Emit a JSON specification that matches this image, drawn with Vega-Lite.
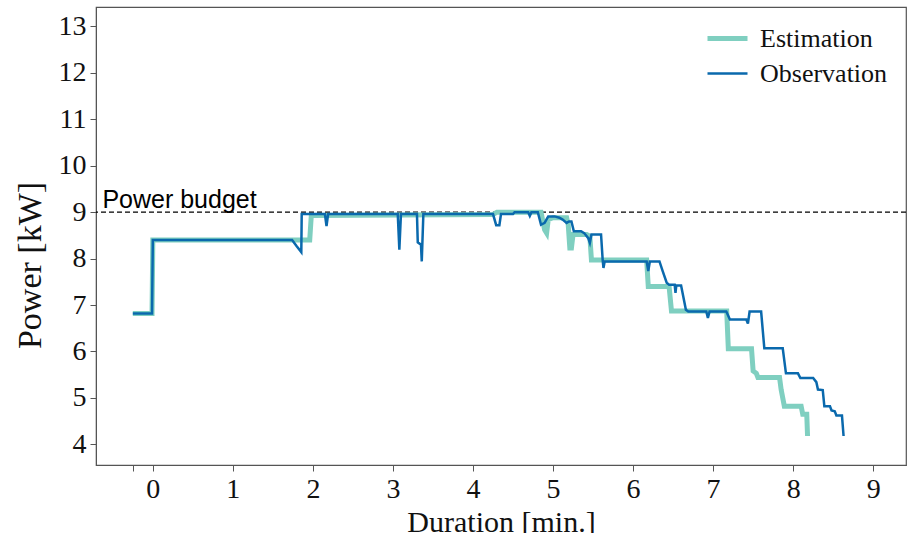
{
  "$schema": "https://vega.github.io/schema/vega-lite/v6.json",
  "autosize": "none",
  "width": 810,
  "height": 458,
  "padding": {"left": 96, "top": 7, "right": 6, "bottom": 68},
  "background": "white",
  "config": {
    "font": "Liberation Serif",
    "view": {"stroke": "#555555", "strokeWidth": 1.2},
    "axis": {
      "grid": false,
      "domainColor": "#555555",
      "tickColor": "#555555",
      "tickSize": 6,
      "labelColor": "#111111",
      "titleColor": "#111111",
      "labelFont": "Liberation Serif",
      "titleFont": "Liberation Serif",
      "titleFontWeight": "normal"
    }
  },
  "datasets": {
    "power": [
      {"series": "Estimation", "t": -0.25, "p": 6.82},
      {"series": "Estimation", "t": -0.01, "p": 6.82},
      {"series": "Estimation", "t": 0.0, "p": 8.4},
      {"series": "Estimation", "t": 1.96, "p": 8.4},
      {"series": "Estimation", "t": 1.98, "p": 8.93},
      {"series": "Estimation", "t": 4.25, "p": 8.95},
      {"series": "Estimation", "t": 4.3, "p": 9.0},
      {"series": "Estimation", "t": 4.85, "p": 9.0},
      {"series": "Estimation", "t": 4.895, "p": 8.62},
      {"series": "Estimation", "t": 4.92, "p": 8.55},
      {"series": "Estimation", "t": 4.94, "p": 8.84},
      {"series": "Estimation", "t": 5.0, "p": 8.88},
      {"series": "Estimation", "t": 5.17, "p": 8.88},
      {"series": "Estimation", "t": 5.19, "p": 8.73},
      {"series": "Estimation", "t": 5.21, "p": 8.23},
      {"series": "Estimation", "t": 5.23, "p": 8.23},
      {"series": "Estimation", "t": 5.25, "p": 8.52},
      {"series": "Estimation", "t": 5.42, "p": 8.52},
      {"series": "Estimation", "t": 5.46, "p": 8.48},
      {"series": "Estimation", "t": 5.48, "p": 7.97},
      {"series": "Estimation", "t": 6.17, "p": 7.97},
      {"series": "Estimation", "t": 6.19, "p": 7.4},
      {"series": "Estimation", "t": 6.45, "p": 7.4},
      {"series": "Estimation", "t": 6.48, "p": 6.87},
      {"series": "Estimation", "t": 7.17, "p": 6.87},
      {"series": "Estimation", "t": 7.19, "p": 6.06},
      {"series": "Estimation", "t": 7.48, "p": 6.06},
      {"series": "Estimation", "t": 7.5, "p": 5.58},
      {"series": "Estimation", "t": 7.54, "p": 5.53},
      {"series": "Estimation", "t": 7.56, "p": 5.44},
      {"series": "Estimation", "t": 7.83, "p": 5.44},
      {"series": "Estimation", "t": 7.85, "p": 5.18},
      {"series": "Estimation", "t": 7.89, "p": 4.82},
      {"series": "Estimation", "t": 8.1, "p": 4.82},
      {"series": "Estimation", "t": 8.12, "p": 4.65},
      {"series": "Estimation", "t": 8.17, "p": 4.65},
      {"series": "Estimation", "t": 8.18, "p": 4.18},
      {"series": "Observation", "t": -0.25, "p": 6.82},
      {"series": "Observation", "t": -0.01, "p": 6.82},
      {"series": "Observation", "t": 0.0, "p": 8.4},
      {"series": "Observation", "t": 1.74, "p": 8.4},
      {"series": "Observation", "t": 1.8, "p": 8.26},
      {"series": "Observation", "t": 1.855, "p": 8.14},
      {"series": "Observation", "t": 1.86, "p": 8.96},
      {"series": "Observation", "t": 2.15, "p": 8.96},
      {"series": "Observation", "t": 2.17, "p": 8.7},
      {"series": "Observation", "t": 2.19, "p": 8.96},
      {"series": "Observation", "t": 3.06, "p": 8.96},
      {"series": "Observation", "t": 3.08, "p": 8.19},
      {"series": "Observation", "t": 3.1, "p": 8.96},
      {"series": "Observation", "t": 3.3, "p": 8.96},
      {"series": "Observation", "t": 3.31, "p": 8.35},
      {"series": "Observation", "t": 3.35, "p": 8.3},
      {"series": "Observation", "t": 3.36, "p": 7.94},
      {"series": "Observation", "t": 3.38, "p": 8.96},
      {"series": "Observation", "t": 4.25, "p": 8.96},
      {"series": "Observation", "t": 4.29, "p": 8.72},
      {"series": "Observation", "t": 4.33, "p": 8.72},
      {"series": "Observation", "t": 4.35, "p": 8.96},
      {"series": "Observation", "t": 4.5, "p": 8.96},
      {"series": "Observation", "t": 4.52, "p": 9.0},
      {"series": "Observation", "t": 4.69, "p": 9.0},
      {"series": "Observation", "t": 4.71, "p": 8.92},
      {"series": "Observation", "t": 4.73, "p": 9.0},
      {"series": "Observation", "t": 4.81, "p": 9.0},
      {"series": "Observation", "t": 4.85, "p": 8.73},
      {"series": "Observation", "t": 4.895, "p": 8.77},
      {"series": "Observation", "t": 4.94, "p": 8.91},
      {"series": "Observation", "t": 5.02, "p": 8.91},
      {"series": "Observation", "t": 5.08, "p": 8.88},
      {"series": "Observation", "t": 5.12, "p": 8.84},
      {"series": "Observation", "t": 5.17, "p": 8.77},
      {"series": "Observation", "t": 5.2, "p": 8.8},
      {"series": "Observation", "t": 5.23, "p": 8.8},
      {"series": "Observation", "t": 5.26, "p": 8.59},
      {"series": "Observation", "t": 5.35, "p": 8.59},
      {"series": "Observation", "t": 5.39, "p": 8.55},
      {"series": "Observation", "t": 5.44, "p": 8.44},
      {"series": "Observation", "t": 5.46, "p": 8.34},
      {"series": "Observation", "t": 5.48, "p": 8.52},
      {"series": "Observation", "t": 5.6, "p": 8.52},
      {"series": "Observation", "t": 5.62, "p": 7.98},
      {"series": "Observation", "t": 5.63, "p": 7.8},
      {"series": "Observation", "t": 5.645, "p": 7.94},
      {"series": "Observation", "t": 6.17, "p": 7.94},
      {"series": "Observation", "t": 6.19, "p": 7.73},
      {"series": "Observation", "t": 6.21, "p": 7.94},
      {"series": "Observation", "t": 6.33, "p": 7.94},
      {"series": "Observation", "t": 6.37, "p": 7.73},
      {"series": "Observation", "t": 6.42, "p": 7.48},
      {"series": "Observation", "t": 6.45, "p": 7.44},
      {"series": "Observation", "t": 6.52, "p": 7.44},
      {"series": "Observation", "t": 6.53, "p": 7.26},
      {"series": "Observation", "t": 6.54, "p": 7.42},
      {"series": "Observation", "t": 6.6, "p": 7.42},
      {"series": "Observation", "t": 6.66, "p": 6.9},
      {"series": "Observation", "t": 6.69, "p": 6.86},
      {"series": "Observation", "t": 6.915, "p": 6.86},
      {"series": "Observation", "t": 6.935, "p": 6.72},
      {"series": "Observation", "t": 6.956, "p": 6.86},
      {"series": "Observation", "t": 7.165, "p": 6.86},
      {"series": "Observation", "t": 7.21, "p": 6.69},
      {"series": "Observation", "t": 7.415, "p": 6.69},
      {"series": "Observation", "t": 7.435, "p": 6.6},
      {"series": "Observation", "t": 7.456, "p": 6.86},
      {"series": "Observation", "t": 7.6, "p": 6.86},
      {"series": "Observation", "t": 7.64, "p": 6.07},
      {"series": "Observation", "t": 7.87, "p": 6.07},
      {"series": "Observation", "t": 7.91, "p": 5.53},
      {"series": "Observation", "t": 8.06, "p": 5.53},
      {"series": "Observation", "t": 8.09, "p": 5.43},
      {"series": "Observation", "t": 8.25, "p": 5.43},
      {"series": "Observation", "t": 8.29, "p": 5.34},
      {"series": "Observation", "t": 8.31, "p": 5.18},
      {"series": "Observation", "t": 8.37, "p": 5.17},
      {"series": "Observation", "t": 8.39, "p": 4.82},
      {"series": "Observation", "t": 8.46, "p": 4.82},
      {"series": "Observation", "t": 8.48, "p": 4.73},
      {"series": "Observation", "t": 8.52, "p": 4.71},
      {"series": "Observation", "t": 8.54, "p": 4.62},
      {"series": "Observation", "t": 8.61, "p": 4.62},
      {"series": "Observation", "t": 8.63, "p": 4.18}
    ],
    "budget": [
      {"p": 9.0, "t": -0.63, "label": "Power budget"}
    ]
  },
  "layer": [
    {
      "data": {"name": "budget"},
      "mark": {"type": "rule", "color": "#000000", "strokeWidth": 1.3, "strokeDash": [5, 3]},
      "encoding": {
        "y": {"field": "p", "type": "quantitative", "scale": {"domain": [3.555, 13.42], "nice": false, "zero": false}}
      }
    },
    {
      "data": {"name": "budget"},
      "mark": {"type": "text", "font": "Liberation Sans", "fontSize": 25, "align": "left", "baseline": "alphabetic", "dy": -4, "color": "#000000"},
      "encoding": {
        "x": {"field": "t", "type": "quantitative"},
        "y": {"field": "p", "type": "quantitative"},
        "text": {"field": "label"}
      }
    },
    {
      "data": {"name": "power"},
      "mark": {"type": "line", "strokeJoin": "miter", "strokeCap": "butt"},
      "encoding": {
        "x": {
          "field": "t",
          "type": "quantitative",
          "scale": {"domain": [-0.71, 9.41], "nice": false, "zero": false},
          "axis": {
            "title": "Duration [min.]",
            "values": [-0.25, 0, 1, 2, 3, 4, 5, 6, 7, 8, 9],
            "labelExpr": "datum.value == -0.25 ? '' : format(datum.value, 'd')",
            "labelFontSize": 28,
            "labelPadding": 4,
            "titleFontSize": 30,
            "titlePadding": 4
          }
        },
        "y": {
          "field": "p",
          "type": "quantitative",
          "scale": {"domain": [3.555, 13.42], "nice": false, "zero": false},
          "axis": {
            "title": "Power [kW]",
            "values": [4, 5, 6, 7, 8, 9, 10, 11, 12, 13],
            "labelFontSize": 28,
            "labelPadding": 4,
            "titleFontSize": 34,
            "titleY": 258,
            "titlePadding": 11
          }
        },
        "color": {
          "field": "series",
          "type": "nominal",
          "scale": {"domain": ["Estimation", "Observation"], "range": ["#7fcfc0", "#0a69ad"]},
          "legend": {
            "title": null,
            "orient": "none",
            "legendX": 609,
            "legendY": 9,
            "symbolType": "stroke",
            "symbolSize": 1600,
            "labelFontSize": 26,
            "labelFont": "Liberation Serif",
            "labelColor": "#111111",
            "labelOffset": 10,
            "rowPadding": -4
          }
        },
        "strokeWidth": {
          "field": "series",
          "type": "nominal",
          "scale": {"domain": ["Estimation", "Observation"], "range": [5, 2.5]},
          "legend": null
        }
      }
    }
  ]
}
